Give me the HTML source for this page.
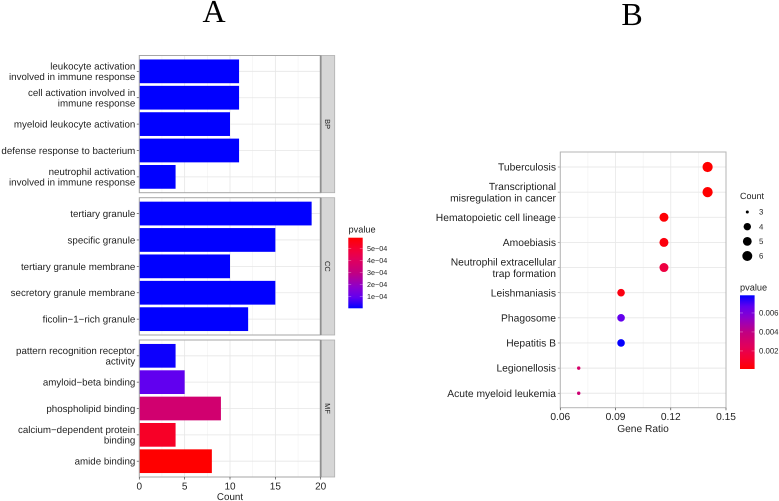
<!DOCTYPE html>
<html>
<head>
<meta charset="utf-8">
<style>
html,body{margin:0;padding:0;background:#fff;width:779px;height:501px;overflow:hidden}
svg{display:block;filter:blur(0.3px)}
text{font-family:"Liberation Sans",sans-serif;fill:#1f1f1f;text-rendering:geometricPrecision}
</style>
</head>
<body>
<svg id="figure" width="779" height="501" viewBox="0 0 779 501" xmlns="http://www.w3.org/2000/svg">
<defs id="defs"></defs>
<text x="214" y="22" text-anchor="middle" style="font-family:'Liberation Serif',serif;font-size:32px;fill:#000">A</text>
<text x="632" y="25" text-anchor="middle" style="font-family:'Liberation Serif',serif;font-size:32px;fill:#000">B</text>
</svg>
<script>
// ---- Chart A data ----
const bpTerms = ["leukocyte activation|involved in immune response","cell activation involved in|immune response","myeloid leukocyte activation","defense response to bacterium","neutrophil activation|involved in immune response"];
const bpCounts = [11, 11, 10, 11, 4];
const bpPvalues = [0.000001, 0.000001, 0.000001, 0.000001, 0.000001];
const ccTerms = ["tertiary granule","specific granule","tertiary granule membrane","secretory granule membrane","ficolin−1−rich granule"];
const ccCounts = [19, 15, 10, 15, 12];
const ccPvalues = [0.000001, 0.000001, 0.000001, 0.000001, 0.000001];
const mfTerms = ["pattern recognition receptor|activity","amyloid−beta binding","phospholipid binding","calcium−dependent protein|binding","amide binding"];
const mfCounts = [4, 5, 9, 4, 8];
const mfPvalues = [0.000012, 0.00009, 0.00035, 0.00052, 0.000588];
const facetNames = ["BP", "CC", "MF"];
const countTicks = [0, 5, 10, 15, 20];
const countMinorTicks = [2.5, 7.5, 12.5, 17.5];
const pvalueTicksA = [0.0005, 0.0004, 0.0003, 0.0002, 0.0001];
const pvalueTickLabelsA = ["5e−04", "4e−04", "3e−04", "2e−04", "1e−04"];

// ---- Chart B data ----
const pathways = ["Tuberculosis","Transcriptional|misregulation in cancer","Hematopoietic cell lineage","Amoebiasis","Neutrophil extracellular|trap formation","Leishmaniasis","Phagosome","Hepatitis B","Legionellosis","Acute myeloid leukemia"];
const geneRatios = [0.14, 0.14, 0.1163, 0.1163, 0.1163, 0.093, 0.093, 0.093, 0.07, 0.07];
const pathwayCounts = [6, 6, 5, 5, 5, 4, 4, 4, 3, 3];
const pathwayPvalues = [0.0001, 0.0001, 0.0002, 0.0004, 0.0017, 0.0005, 0.0066, 0.0078, 0.003, 0.0034];
const ratioTicks = [0.06, 0.09, 0.12, 0.15];
const ratioTickLabels = ["0.06", "0.09", "0.12", "0.15"];
const ratioMinorTicks = [0.075, 0.105, 0.135];
const countLegendValues = [3, 4, 5, 6];
const pvalueTicksB = [0.006, 0.004, 0.002];
const pvalueTickLabelsB = ["0.006", "0.004", "0.002"];

const svg = document.getElementById('figure');
const NS = 'http://www.w3.org/2000/svg';

function make(tag, attrs, parent) {
  const el = document.createElementNS(NS, tag);
  for (const k in attrs) el.setAttribute(k, attrs[k]);
  (parent || svg).appendChild(el);
  return el;
}

// Approximation of ggplot2's Lab interpolation between blue and red
const colorStops = [[0,0,0,255],[0.15,96,0,240],[0.3,140,0,205],[0.5,193,0,130],[0.7,226,0,90],[0.85,245,0,50],[1,255,0,0]];
function ramp(t) {
  t = Math.max(0, Math.min(1, t));
  for (let i = 1; i < colorStops.length; i++) {
    const a = colorStops[i - 1], b = colorStops[i];
    if (t <= b[0]) {
      const f = (t - a[0]) / (b[0] - a[0]);
      return 'rgb(' + [1, 2, 3].map(j => Math.round(a[j] + (b[j] - a[j]) * f)).join(',') + ')';
    }
  }
  return 'rgb(255,0,0)';
}
function gradient(id, x1, y1, x2, y2) {
  const g = make('linearGradient', {id: id, x1: x1, y1: y1, x2: x2, y2: y2}, document.getElementById('defs'));
  for (let i = 0; i <= 20; i++) {
    make('stop', {offset: i / 20, 'stop-color': ramp(i / 20)}, g);
  }
}
function multiline(lines, x, y, size, anchor, lineH, name) {
  const t = make('text', {x: x, 'text-anchor': anchor, 'font-size': size});
  
  
  const top = y - (lines.length - 1) * lineH / 2 + size * 0.35;
  lines.forEach((s, i) => {
    const sp = make('tspan', {x: x, y: top + i * lineH}, t);
    sp.textContent = s;
  });
  return t;
}
function slug(s) {
  return s.replace(/\|/g, ' ').replace(/[^A-Za-z0-9]+/g, '-').toLowerCase();
}

// ================ Chart A ================
const xA0 = 139.3, xA1 = 320.7, stripW = 14;
const xA = v => xA0 + (v - 0) * (xA1 - xA0) / 20;
const maxPA = 0.000588;
const colorA = p => ramp(p / maxPA);
const panelsA = [
  {top: 55.5, bottom: 192.7, terms: bpTerms, counts: bpCounts, pvals: bpPvalues},
  {top: 197.7, bottom: 335, terms: ccTerms, counts: ccCounts, pvals: ccPvalues},
  {top: 340, bottom: 477, terms: mfTerms, counts: mfCounts, pvals: mfPvalues}
];
panelsA.forEach((pn, pi) => {
  const n = pn.terms.length;
  const unit = (pn.bottom - pn.top) / (n - 1 + 1.2);
  const yA = i => pn.top + (0.6 + i) * unit;
  const facet = facetNames[pi].toLowerCase();
  countMinorTicks.forEach(v => {
    const l = make('line', {x1: xA(v), x2: xA(v), y1: pn.top, y2: pn.bottom, stroke: '#efefef', 'stroke-width': 0.5});
    
    
  });
  countTicks.forEach(v => {
    const l = make('line', {x1: xA(v), x2: xA(v), y1: pn.top, y2: pn.bottom, stroke: '#e6e6e6', 'stroke-width': 0.8});
    
    
  });
  pn.terms.forEach((term, i) => {
    const gl = make('line', {x1: xA0, x2: xA1, y1: yA(i), y2: yA(i), stroke: '#e6e6e6', 'stroke-width': 0.8});
    
    
    const bar = make('rect', {x: xA(0), y: yA(i) - unit * 0.45, width: xA(pn.counts[i]) - xA(0), height: unit * 0.9, fill: colorA(pn.pvals[i])});
    
    
    const tk = make('line', {x1: xA0 - 2.5, x2: xA0, y1: yA(i), y2: yA(i), stroke: '#444', 'stroke-width': 0.7});
    
    
    multiline(term.split('|'), 135.3, yA(i), 9.75, 'end', 10.6, 'y-label-' + slug(term));
  });
  const border = make('rect', {x: xA0, y: pn.top, width: xA1 - xA0, height: pn.bottom - pn.top, fill: 'none', stroke: '#a6a6a6', 'stroke-width': 1});
  
  
  const strip = make('rect', {x: xA1, y: pn.top, width: stripW, height: pn.bottom - pn.top, fill: '#d6d6d6', stroke: '#b0b0b0', 'stroke-width': 0.8});
  
  
  const sl = make('line', {x1: xA1, x2: xA1, y1: pn.top, y2: pn.bottom, stroke: '#8f8f8f', 'stroke-width': 1.8});
  
  
  const cy = (pn.top + pn.bottom) / 2, cx = xA1 + stripW / 2;
  const st = make('text', {x: cx, y: cy, 'font-size': 7.4, 'text-anchor': 'middle', 'dominant-baseline': 'central', transform: 'rotate(90 ' + cx + ' ' + cy + ')'});
  st.textContent = facetNames[pi];
  
  
});
countTicks.forEach(v => {
  const tk = make('line', {x1: xA(v), x2: xA(v), y1: 477, y2: 479.5, stroke: '#444', 'stroke-width': 0.7});
  
  
  const t = make('text', {x: xA(v), y: 489.5, 'font-size': 10, 'text-anchor': 'middle'});
  t.textContent = v;
  
  
});
const xTitleA = make('text', {x: 230, y: 500, 'font-size': 9.8, 'text-anchor': 'middle'});
xTitleA.textContent = 'Count';



// Legend A
gradient('gradA', 0, 1, 0, 0);
const legATop = 237.7, legABot = 308.3;
const yLegA = p => legABot - (p / maxPA) * (legABot - legATop);
const legTitleA = make('text', {x: 348.5, y: 232.5, 'font-size': 9.2});
legTitleA.textContent = 'pvalue';


const legBarA = make('rect', {x: 348.3, y: legATop, width: 14.4, height: legABot - legATop, fill: 'url(#gradA)'});


pvalueTicksA.forEach((p, i) => {
  [[348.3, 351.2], [359.8, 362.7]].forEach(x => {
    const tk = make('line', {x1: x[0], x2: x[1], y1: yLegA(p), y2: yLegA(p), stroke: '#fff', 'stroke-width': 0.4, 'stroke-opacity': 0.7});
    
    
  });
  const t = make('text', {x: 367, y: yLegA(p) + 2.5, 'font-size': 7.2});
  t.textContent = pvalueTickLabelsA[i];
  
  
});

// ================ Chart B ================
const xB0 = 560.3, xB1 = 726, yB0 = 152, yB1 = 407.7;
const xB = v => xB0 + (v - 0.06) * (xB1 - xB0) / 0.09;
const yB = i => 167 + i * 25.14;
const rB = c => ({3: 1.7, 4: 3.8, 5: 4.5, 6: 5.1})[c] || (c * 0.85);
const maxPB = 0.00786, minPB = 0.0001;
const colorB = p => ramp(1 - (p - minPB) / (maxPB - minPB));

ratioMinorTicks.forEach(v => {
  const l = make('line', {x1: xB(v), x2: xB(v), y1: yB0, y2: yB1, stroke: '#f0f0f0', 'stroke-width': 0.6});
  
  
});
ratioTicks.forEach(v => {
  const l = make('line', {x1: xB(v), x2: xB(v), y1: yB0, y2: yB1, stroke: '#e8e8e8', 'stroke-width': 0.8});
  
  
});
pathways.forEach((term, i) => {
  const gl = make('line', {x1: xB0, x2: xB1, y1: yB(i), y2: yB(i), stroke: '#e8e8e8', 'stroke-width': 0.9});
  
  
  const tk = make('line', {x1: xB0 - 2.5, x2: xB0, y1: yB(i), y2: yB(i), stroke: '#777', 'stroke-width': 0.6});
  
  
  multiline(term.split('|'), 556, yB(i), 10.3, 'end', 11.6, 'pathway-label-' + slug(term));
});
pathways.forEach((term, i) => {
  const pt = make('circle', {cx: xB(geneRatios[i]), cy: yB(i), r: rB(pathwayCounts[i]), fill: colorB(pathwayPvalues[i])});
  
  
});
const borderB = make('rect', {x: xB0, y: yB0, width: xB1 - xB0, height: yB1 - yB0, fill: 'none', stroke: '#b5b5b5', 'stroke-width': 1});


ratioTicks.forEach((v, i) => {
  const tk = make('line', {x1: xB(v), x2: xB(v), y1: yB1, y2: yB1 + 2.5, stroke: '#444', 'stroke-width': 0.7});
  
  
  const t = make('text', {x: xB(v), y: 420, 'font-size': 10.2, 'text-anchor': 'middle'});
  t.textContent = ratioTickLabels[i];
  
  
});
const xTitleB = make('text', {x: 643, y: 432, 'font-size': 10.2, 'text-anchor': 'middle'});
xTitleB.textContent = 'Gene Ratio';



// Legend B: Count
const countTitle = make('text', {x: 740, y: 199, 'font-size': 9});
countTitle.textContent = 'Count';


countLegendValues.forEach((c, i) => {
  const y = 212 + i * 14.67;
  const d = make('circle', {cx: 747.3, cy: y, r: c === 3 ? 1.5 : rB(c) - 0.1, fill: '#000'});
  
  
  const t = make('text', {x: 759, y: y + 2.6, 'font-size': 7.8});
  t.textContent = c;
  
  
});

// Legend B: pvalue
gradient('gradB', 0, 0, 0, 1);
const legBTop = 295.3, legBBot = 369;
const yLegB = p => legBBot - ((p - minPB) / (maxPB - minPB)) * (legBBot - legBTop);
const legTitleB = make('text', {x: 740, y: 290.5, 'font-size': 9.2});
legTitleB.textContent = 'pvalue';


const legBarB = make('rect', {x: 740, y: legBTop, width: 14.6, height: legBBot - legBTop, fill: 'url(#gradB)'});


pvalueTicksB.forEach((p, i) => {
  [[740, 743], [751.6, 754.6]].forEach(x => {
    const tk = make('line', {x1: x[0], x2: x[1], y1: yLegB(p), y2: yLegB(p), stroke: '#fff', 'stroke-width': 0.4, 'stroke-opacity': 0.7});
    
    
  });
  const t = make('text', {x: 759, y: yLegB(p) + 2.6, 'font-size': 7.8});
  t.textContent = pvalueTickLabelsB[i];
  
  
});
</script>
</body>
</html>
